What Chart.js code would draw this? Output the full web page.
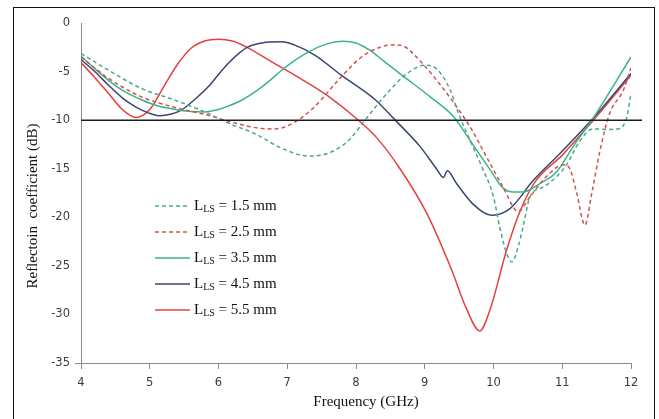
<!DOCTYPE html>
<html>
<head>
<meta charset="utf-8">
<script src="https://cdn.jsdelivr.net/npm/chart.js@4/dist/chart.umd.min.js"></script>
<style>
    html, body { margin: 0; padding: 0; background: #fff; }
    #wrap { position: relative; width: 659px; height: 419px; overflow: hidden; }
    #frame {
        position: absolute; left: 13px; top: 7px; width: 640px; height: 430px;
        border: 1.5px solid #111; pointer-events: none;
    }
</style>
</head>
<body>
<div id="wrap">
    <canvas id="s11Chart" width="659" height="419"></canvas>
    <div id="frame"></div>
</div>
<script>
// Reflection coefficient sweeps, one per slot length L_LS
const freq15 = [4.0, 4.4, 4.88, 5.37, 5.85, 6.14, 6.53, 6.92, 7.31, 7.6, 7.89, 8.13, 8.37, 8.66, 8.85, 9.0, 9.17, 9.37, 9.49, 9.66, 9.83, 10.0, 10.09, 10.19, 10.27, 10.36, 10.43, 10.53, 10.72, 10.92, 11.07, 11.26, 11.45, 11.65, 11.84, 11.94, 12.0];
const s11_15 = [-3.14, -4.86, -6.74, -7.95, -9.3, -10.3, -11.4, -12.9, -13.7, -13.4, -12.1, -10.0, -7.9, -5.7, -4.7, -4.34, -4.7, -6.9, -9.3, -12.1, -14.8, -17.9, -21.0, -23.7, -24.6, -23.0, -21.0, -17.9, -16.9, -15.8, -14.5, -12.1, -10.9, -10.96, -10.85, -9.66, -7.25];

const freq25 = [4.0, 4.4, 4.88, 5.37, 5.85, 6.24, 6.63, 6.82, 7.11, 7.4, 7.74, 8.08, 8.37, 8.57, 8.7, 8.88, 9.22, 9.46, 9.66, 9.9, 10.14, 10.36, 10.53, 10.77, 11.02, 11.11, 11.21, 11.33, 11.43, 11.55, 11.69, 11.89, 12.0];
const s11_25 = [-3.5, -5.7, -7.6, -8.7, -9.5, -10.3, -10.86, -10.9, -10.2, -8.6, -5.9, -3.5, -2.45, -2.25, -2.4, -3.5, -6.3, -8.6, -10.7, -13.8, -16.9, -19.4, -17.9, -15.8, -14.6, -15.0, -17.5, -20.8, -17.5, -13.1, -9.3, -6.9, -4.6];

const freq35 = [4.0, 4.2, 4.4, 4.6, 4.88, 5.1, 5.37, 5.6, 5.8, 6.0, 6.14, 6.35, 6.53, 6.75, 6.92, 7.1, 7.31, 7.6, 7.82, 8.0, 8.2, 8.4, 8.69, 9.08, 9.42, 9.66, 9.95, 10.14, 10.29, 10.43, 10.68, 10.92, 11.16, 11.43, 12.0];
const s11_35 = [-3.4, -4.7, -5.9, -6.9, -7.9, -8.5, -8.9, -9.1, -9.15, -8.9, -8.56, -7.9, -7.1, -5.9, -4.86, -3.9, -2.97, -2.1, -1.87, -2.05, -2.8, -3.9, -5.5, -7.6, -9.66, -12.1, -15.1, -17.0, -17.4, -17.4, -16.5, -15.3, -12.7, -10.0, -3.5];

const freq45 = [4.0, 4.2, 4.4, 4.6, 4.8, 5.0, 5.15, 5.3, 5.46, 5.65, 5.85, 6.0, 6.14, 6.3, 6.43, 6.63, 6.92, 7.11, 7.4, 7.79, 8.28, 8.57, 8.93, 9.17, 9.27, 9.33, 9.46, 9.71, 9.97, 10.24, 10.58, 10.97, 11.4, 12.0];
const s11_45 = [-3.76, -5.0, -6.4, -7.7, -8.65, -9.3, -9.55, -9.4, -8.97, -7.9, -6.57, -5.3, -4.17, -3.1, -2.45, -2.05, -1.94, -2.28, -3.3, -5.4, -7.9, -10.0, -12.7, -15.0, -15.9, -15.2, -16.5, -18.7, -19.8, -19.1, -16.2, -13.4, -10.2, -5.2];

const freq55 = [4.0, 4.2, 4.4, 4.6, 4.8, 5.0, 5.2, 5.4, 5.6, 5.8, 6.0, 6.2, 6.4, 6.8, 7.2, 7.6, 8.0, 8.3, 8.64, 9.03, 9.39, 9.6, 9.8, 9.95, 10.19, 10.39, 10.6, 11.0, 11.43, 12.0];
const s11_55 = [-4.1, -5.6, -7.25, -8.9, -9.72, -8.9, -6.6, -4.3, -2.6, -1.85, -1.67, -1.85, -2.45, -4.1, -5.75, -7.55, -9.8, -11.8, -15.0, -19.6, -25.4, -29.3, -31.7, -29.5, -23.4, -19.3, -16.4, -13.6, -10.2, -5.4];

// -10 dB reference level
const refFreq = [4.0, 12.16];
const refLevel = [-10, -10];

const seriesNames = ['1.5 mm', '2.5 mm', '3.5 mm', '4.5 mm', '5.5 mm'];
const seriesColors = ['#4aa98c', '#cf5550', '#3cb487', '#3b4672', '#e6403c'];

const xTicks = [4, 5, 6, 7, 8, 9, 10, 11, 12];
const yTicks = [0, -5, -10, -15, -20, -25, -30, -35];

const toPoints = (xs, ys) => xs.map((x, i) => ({ x: x, y: ys[i] }));

const sweeps = [
    [freq15, s11_15, true],
    [freq25, s11_25, true],
    [freq35, s11_35, false],
    [freq45, s11_45, false],
    [freq55, s11_55, false]
];

const datasets = sweeps.map((s, i) => ({
    label: seriesNames[i],
    data: toPoints(s[0], s[1]),
    borderColor: seriesColors[i],
    borderWidth: 1.5,
    borderDash: s[2] ? [4, 3] : [],
    pointRadius: 0,
    cubicInterpolationMode: 'monotone',
    fill: false
}));

datasets.push({
    label: 'ref',
    data: toPoints(refFreq, refLevel),
    borderColor: '#1c1c1c',
    borderWidth: 1.5,
    pointRadius: 0,
    clip: false,
    order: -1
});

const axisGray = '#8a8a8a';
const tickFont = { family: '"DejaVu Sans", Verdana, sans-serif', size: 11.5 };

// Legend with subscript "LS" and axis titles, drawn on the canvas
const annotations = {
    id: 'annotations',
    afterDraw(chart) {
        const ctx = chart.ctx;
        const area = chart.chartArea;
        ctx.save();
        ctx.fillStyle = '#111';
        ctx.textBaseline = 'middle';

        // axis titles
        ctx.font = '15px "Liberation Serif", "Times New Roman", serif';
        ctx.textAlign = 'center';
        ctx.fillText('Frequency (GHz)', (area.left + area.right) / 2 + 10, area.bottom + 39);
        ctx.save();
        ctx.translate(area.left - 48, (area.top + area.bottom) / 2 + 13);
        ctx.rotate(-Math.PI / 2);
        ctx.fillText('Reflectoin  coefficient (dB)', 0, 0);
        ctx.restore();

        // legend block
        const lx = area.left + 74;
        const ly = area.top + 183;
        ctx.textAlign = 'left';
        seriesNames.forEach((name, i) => {
            const y = ly + i * 26;
            ctx.strokeStyle = seriesColors[i];
            ctx.lineWidth = 1.5;
            ctx.setLineDash(sweeps[i][2] ? [4, 3] : []);
            ctx.beginPath();
            ctx.moveTo(lx, y);
            ctx.lineTo(lx + 35, y);
            ctx.stroke();
            ctx.setLineDash([]);

            let tx = lx + 39;
            ctx.font = '15px "Liberation Serif", "Times New Roman", serif';
            ctx.fillText('L', tx, y);
            tx += ctx.measureText('L').width;
            ctx.font = '10px "Liberation Serif", "Times New Roman", serif';
            ctx.fillText('LS', tx, y + 3);
            tx += ctx.measureText('LS').width;
            ctx.font = '15px "Liberation Serif", "Times New Roman", serif';
            ctx.fillText(' = ' + name, tx, y);
        });
        ctx.restore();
    }
};

document.addEventListener('DOMContentLoaded', function() {
    const ctx = document.getElementById('s11Chart');
    new Chart(ctx, {
        type: 'line',
        data: { datasets: datasets },
        plugins: [annotations],
        options: {
            responsive: false,
            animation: false,
            layout: { padding: { top: 23, right: 28, left: 0, bottom: 0 } },
            plugins: {
                legend: { display: false },
                tooltip: { enabled: false }
            },
            scales: {
                x: {
                    type: 'linear',
                    min: 4,
                    max: 12,
                    afterFit: (scale) => { scale.height = 56; },
                    afterBuildTicks: (scale) => { scale.ticks = xTicks.map(v => ({ value: v })); },
                    grid: {
                        drawOnChartArea: false,
                        drawTicks: true,
                        tickLength: 6,
                        color: axisGray
                    },
                    border: { display: true, color: axisGray, width: 1 },
                    ticks: {
                        padding: 7,
                        color: '#3c3c3c',
                        font: tickFont
                    }
                },
                y: {
                    min: -35,
                    max: 0,
                    afterFit: (scale) => { scale.width = 81; },
                    afterBuildTicks: (scale) => { scale.ticks = yTicks.map(v => ({ value: v })); },
                    // only the bottom tick shows, as a short stub of the x axis line
                    grid: {
                        drawOnChartArea: false,
                        drawTicks: true,
                        tickLength: 6,
                        color: (c) => (c.tick && c.tick.value === -35 ? axisGray : 'rgba(0,0,0,0)')
                    },
                    border: { display: true, color: axisGray, width: 1 },
                    ticks: {
                        padding: 5,
                        color: '#3c3c3c',
                        font: tickFont
                    }
                }
            }
        }
    });
});
</script>
</body>
</html>
